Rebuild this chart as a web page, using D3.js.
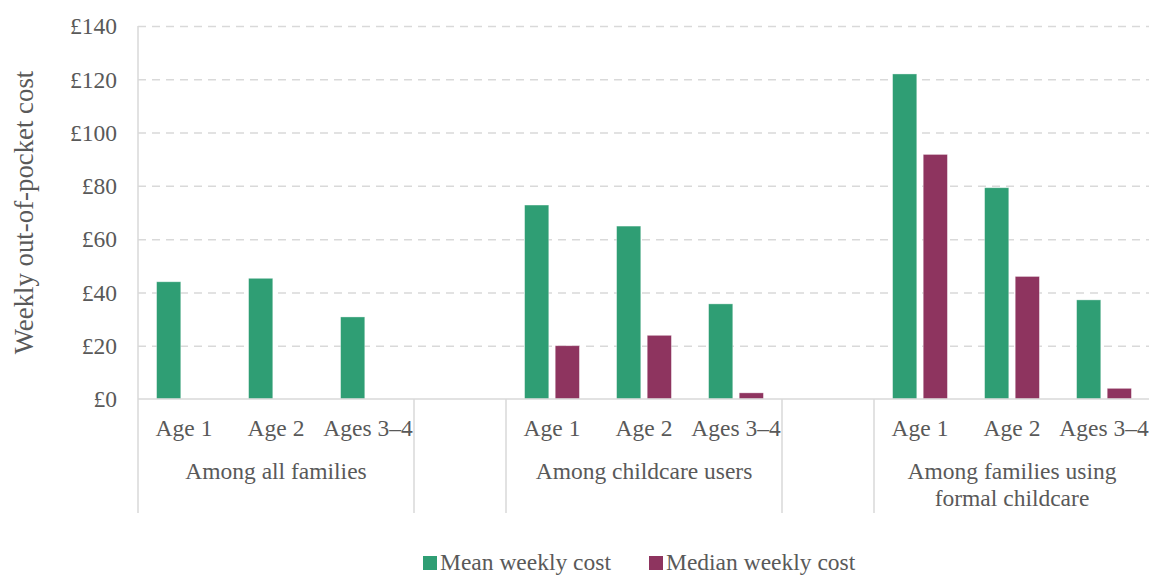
<!DOCTYPE html>
<html>
<head>
<meta charset="utf-8">
<script src="https://cdn.jsdelivr.net/npm/d3@7/dist/d3.min.js"></script>
<style>
body {
  margin: 0;
  background-color: white;
}
text {
  font-family: "Liberation Serif", "Times New Roman", serif;
  font-size: 23.5px;
  fill: #595959;
}
.grid line {
  stroke: #d9d9d9;
  stroke-width: 1.5;
  stroke-dasharray: 8 6;
}
.grid path { display: none; }
</style>
</head>
<body>
<script>
// values (weekly cost in £)
const ages = ["Age 1", "Age 2", "Ages 3–4"];
const groups = [["Among all families"], ["Among childcare users"], ["Among families using", "formal childcare"]];
const series = ["Mean weekly cost", "Median weekly cost"];
const colors = ["#2f9e74", "#8e345f"];
const meanCost = [[44.0, 45.3, 30.8], [72.8, 64.9, 35.7], [122.0, 79.3, 37.2]];
const medianCost = [[null, null, null], [20.0, 23.9, 2.3], [91.8, 46.0, 4.0]];
const yTicks = [0, 20, 40, 60, 80, 100, 120, 140];

// slots: three ages per group with an empty slot between groups
const slots = [];
groups.forEach((g, gi) => {
  ages.forEach((a, ai) => slots.push({key: `${gi}-${ai}`, group: gi, age: a,
    values: [meanCost[gi][ai], medianCost[gi][ai]]}));
  if (gi < groups.length - 1) slots.push({key: `gap-${gi}`, group: null});
});

const W = 1149, H = 575;
const svg = d3.select("body").append("svg").attr("width", W).attr("height", H);

const x = d3.scaleBand().domain(slots.map(d => d.key)).range([138, 1150]);
const x1 = d3.scaleBand().domain(series).range([0, x.bandwidth()])
             .paddingInner(0.21).paddingOuter(0.607);
const y = d3.scaleLinear().domain([0, 140]).range([399, 26]);

// gridlines
svg.append("g")
   .attr("class", "grid")
   .attr("transform", "translate(138,0)")
   .call(d3.axisLeft(y).tickValues(yTicks.slice(1)).tickSize(-1012).tickFormat(""));

// y tick labels
svg.append("g").selectAll("text")
   .data(yTicks).join("text")
   .attr("x", 117).attr("y", d => y(d))
   .attr("dy", "0.35em")
   .attr("text-anchor", "end")
   .text(d => `£${d}`);

// y axis title
svg.append("text")
   .attr("transform", `translate(24,${(y(0) + y(140)) / 2}) rotate(-90)`)
   .attr("dy", "0.35em")
   .attr("text-anchor", "middle")
   .style("font-size", "26.8px")
   .text("Weekly out-of-pocket cost");

// bars
const slotG = svg.append("g").selectAll("g")
   .data(slots.filter(d => d.group !== null)).join("g")
   .attr("transform", d => `translate(${x(d.key)},0)`);

slotG.selectAll("rect")
   .data(d => d.values.map((v, i) => ({s: series[i], v, i})).filter(e => e.v != null))
   .join("rect")
   .attr("x", e => x1(e.s))
   .attr("width", x1.bandwidth())
   .attr("y", e => y(e.v))
   .attr("height", e => y(0) - y(e.v))
   .attr("fill", e => colors[e.i])
   .attr("stroke", "rgba(255,255,255,0.45)")
   .attr("stroke-width", 0.8);

// axis lines
svg.append("line")
   .attr("x1", 138).attr("x2", 1150).attr("y1", y(0)).attr("y2", y(0))
   .attr("stroke", "#d9d9d9").attr("stroke-width", 1.5);
svg.append("line")
   .attr("x1", 138).attr("x2", 138).attr("y1", y(140)).attr("y2", y(0))
   .attr("stroke", "#d9d9d9").attr("stroke-width", 1.5);

// age labels
svg.append("g").selectAll("text")
   .data(slots.filter(d => d.group !== null)).join("text")
   .attr("x", d => x(d.key) + x.bandwidth() / 2)
   .attr("y", 436)
   .attr("text-anchor", "middle")
   .text(d => d.age);

// group separators
const seps = [];
slots.forEach((d, i) => {
  if (d.group === null) seps.push(x(d.key), x(d.key) + x.bandwidth());
});
seps.unshift(x(slots[0].key));
svg.append("g").selectAll("line")
   .data(seps).join("line")
   .attr("x1", d => d).attr("x2", d => d)
   .attr("y1", y(0)).attr("y2", 513)
   .attr("stroke", "#d9d9d9").attr("stroke-width", 1.5);

// group labels
groups.forEach((lines, gi) => {
  const first = x(`${gi}-0`), last = x(`${gi}-2`) + x.bandwidth();
  svg.append("text")
     .attr("x", (first + last) / 2)
     .attr("y", 479)
     .attr("text-anchor", "middle")
     .selectAll("tspan").data(lines).join("tspan")
     .attr("x", (first + last) / 2)
     .attr("dy", (d, i) => i ? 27 : 0)
     .text(d => d);
});

// legend
const legendX = [423, 649];
const leg = svg.append("g").selectAll("g")
   .data(series).join("g")
   .attr("transform", (d, i) => `translate(${legendX[i]},0)`);
leg.append("rect")
   .attr("y", 556).attr("width", 14).attr("height", 14)
   .attr("fill", (d, i) => colors[i]);
leg.append("text")
   .attr("x", 17).attr("y", 570)
   .text(d => d);
</script>
</body>
</html>
